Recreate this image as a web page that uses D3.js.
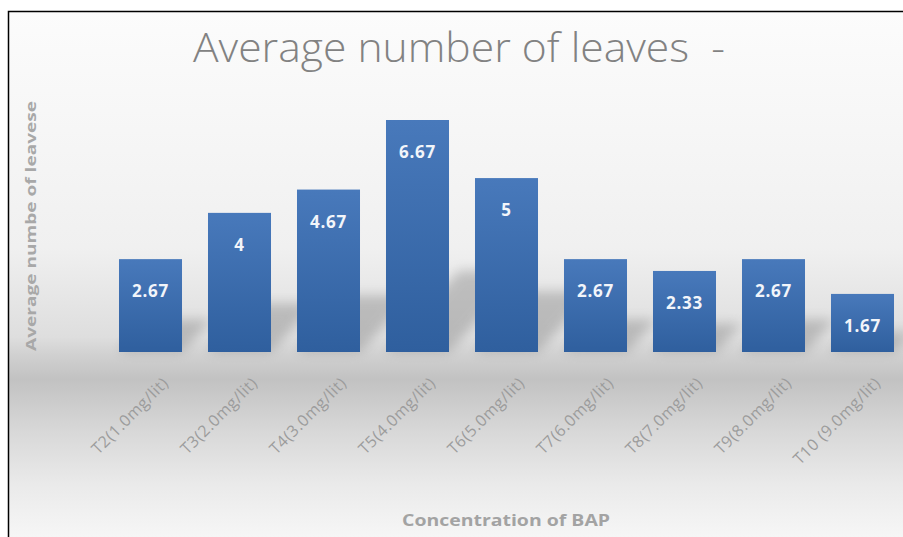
<!DOCTYPE html>
<html>
<head>
<meta charset="utf-8">
<script src="https://cdn.jsdelivr.net/npm/d3@7"></script>
<style>
    body { margin: 0; background: #ffffff; }
    svg { display: block; }
</style>
</head>
<body>
<svg id="chart"></svg>
<script>
// chart data
const categories = ["T2(1.0mg/lit)", "T3(2.0mg/lit)", "T4(3.0mg/lit)", "T5(4.0mg/lit)", "T6(5.0mg/lit)",
                    "T7(6.0mg/lit)", "T8(7.0mg/lit)", "T9(8.0mg/lit)", "T10 (9.0mg/lit)"];
const leaves = [2.67, 4, 4.67, 6.67, 5, 2.67, 2.33, 2.67, 1.67];
const valueLabels = ["2.67", "4", "4.67", "6.67", "5", "2.67", "2.33", "2.67", "1.67"];

const chartTitle = "Average number of leaves  -";
const yTitle = "Average numbe of leavese";
const xTitle = "Concentration of BAP";

var width = 903;
var height = 537;
var baseline = 352;

var svg = d3.select("#chart")
    .attr("width", width)
    .attr("height", height);

var defs = svg.append("defs");

// background: light at top, grey "floor" under the bars
var bg = defs.append("linearGradient")
    .attr("id", "bgGrad")
    .attr("x1", 0).attr("y1", 0).attr("x2", 0).attr("y2", 1);
[[0, "#fcfcfc"], [0.45, "#f0f0f0"], [0.62, "#dedede"], [0.655, "#d0d0d0"],
 [0.7, "#c2c2c2"], [0.8, "#d8d8d8"], [0.9, "#eaeaea"], [1, "#f6f6f6"]]
    .forEach(s => bg.append("stop").attr("offset", s[0]).attr("stop-color", s[1]));

var barGrad = defs.append("linearGradient")
    .attr("id", "barGrad")
    .attr("x1", 0).attr("y1", 0).attr("x2", 0).attr("y2", 1);
barGrad.append("stop").attr("offset", 0).attr("stop-color", "#4879bb");
barGrad.append("stop").attr("offset", 1).attr("stop-color", "#2f5f9e");

defs.append("filter")
    .attr("id", "blur")
    .attr("x", "-50%").attr("y", "-50%").attr("width", "200%").attr("height", "200%")
    .append("feGaussianBlur")
    .attr("stdDeviation", 6);

svg.append("rect")
    .attr("x", 8).attr("y", 11)
    .attr("width", width - 8).attr("height", height - 11)
    .attr("fill", "url(#bgGrad)");

// frame (only left and top edges are visible)
svg.append("path")
    .attr("d", "M8.5," + height + "V11.5H" + width)
    .attr("fill", "none")
    .attr("stroke", "#000")
    .attr("stroke-width", 1.5);

const x = d3.scaleBand()
    .domain(categories)
    .range([106, 907])
    .paddingInner(0.292)
    .paddingOuter(0.146);

const y = d3.scaleLinear()
    .domain([0, 6.67])
    .range([baseline, 120]);

var data = categories.map((c, i) => ({cat: c, value: leaves[i], label: valueLabels[i]}));

// soft shadows cast back to the right
svg.append("g")
    .selectAll("path")
    .data(data)
    .enter()
    .append("path")
    .attr("d", d => {
        var x0 = x(d.cat), x1 = x0 + x.bandwidth();
        var h = (baseline - y(d.value)) * 0.35;
        return "M" + x0 + "," + baseline + "L" + x1 + "," + baseline +
            "L" + (x1 + h * 0.9) + "," + (baseline - h) + "L" + (x0 + h * 0.9) + "," + (baseline - h) + "Z";
    })
    .attr("fill", "#8a8a8a")
    .attr("opacity", 0.45)
    .attr("filter", "url(#blur)");

// bars
svg.append("g")
    .selectAll("rect")
    .data(data)
    .enter()
    .append("rect")
    .attr("x", d => x(d.cat))
    .attr("y", d => y(d.value))
    .attr("width", x.bandwidth())
    .attr("height", d => baseline - y(d.value))
    .attr("fill", "url(#barGrad)");

// value labels inside bars
svg.append("g")
    .selectAll("text")
    .data(data)
    .enter()
    .append("text")
    .attr("x", d => x(d.cat) + x.bandwidth() / 2)
    .attr("y", d => y(d.value) + 38)
    .attr("text-anchor", "middle")
    .style("font-family", "'Open Sans', sans-serif")
    .style("font-weight", "bold")
    .style("font-size", "17px")
    .style("letter-spacing", "0.8px")
    .attr("fill", "#f2f5fa")
    .text(d => d.label);

// category labels, rotated
svg.append("g")
    .selectAll("text")
    .data(categories)
    .enter()
    .append("text")
    .attr("transform", d => "translate(" + (x(d) + x.bandwidth() / 2 + 19) + ",384) rotate(-45)")
    .attr("text-anchor", "end")
    .style("font-family", "'Open Sans', sans-serif")
    .style("font-size", "16px")
    .style("letter-spacing", "0.6px")
    .attr("fill", "#9c9c9c")
    .text(d => d);

// chart title
svg.append("text")
    .attr("x", 459)
    .attr("y", 62)
    .attr("text-anchor", "middle")
    .attr("textLength", 532)
    .attr("lengthAdjust", "spacingAndGlyphs")
    .style("font-family", "'Open Sans', sans-serif")
    .style("font-weight", 300)
    .style("font-size", "40px")
    .style("white-space", "pre")
    .attr("fill", "#828282")
    .text(chartTitle);

// axis titles
svg.append("text")
    .attr("transform", "translate(36,226) rotate(-90)")
    .attr("text-anchor", "middle")
    .attr("textLength", 250)
    .attr("lengthAdjust", "spacingAndGlyphs")
    .style("font-family", "'Open Sans', sans-serif")
    .style("font-weight", "bold")
    .style("font-size", "15px")
    .attr("fill", "#a8a8a8")
    .text(yTitle);

svg.append("text")
    .attr("x", 506)
    .attr("y", 526)
    .attr("text-anchor", "middle")
    .attr("textLength", 208)
    .attr("lengthAdjust", "spacingAndGlyphs")
    .style("font-family", "'Open Sans', sans-serif")
    .style("font-weight", "bold")
    .style("font-size", "16px")
    .attr("fill", "#a3a3a3")
    .text(xTitle);
</script>
</body>
</html>
